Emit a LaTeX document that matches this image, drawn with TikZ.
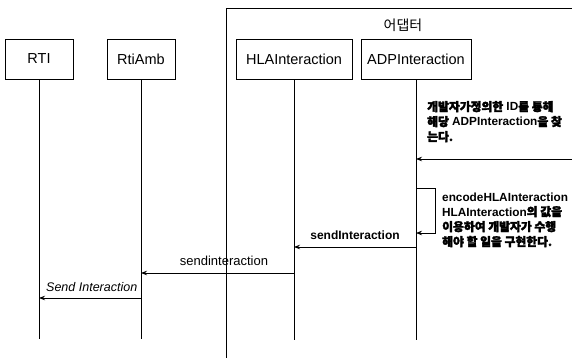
\documentclass[tikz,border=0pt]{standalone}
\usepackage{fontspec}
\setmainfont{Liberation Sans}
\newfontfamily\krf{Noto Sans CJK KR}
\newfontfamily\krb{Noto Sans CJK KR}[FakeBold=2.5]
\newcommand{\K}[1]{{\krb #1}}
\usetikzlibrary{arrows.meta}
\tikzset{
  actor/.style={draw, line width=0.7pt, minimum height=40pt, inner sep=0pt, font=\fontsize{14.5}{16}\selectfont},
  life/.style={line width=0.6pt},
  msg/.style={line width=0.8pt, -{Stealth[length=6pt,width=4.5pt]}},
  note/.style={anchor=base west, inner sep=0pt, font=\bfseries\fontsize{11.8}{13}\selectfont},
}
\begin{document}
\begin{tikzpicture}[x=1pt,y=-1pt]
\useasboundingbox (0,0) rectangle (572,358);
% adapter frame
\coordinate (fTL) at (226,8);
\coordinate (fTR) at (572,8);
\coordinate (fBL) at (226,358);
\draw[line width=0.7pt] (fBL) -- (fTL) -- (fTR);
\node (adlabel) at (403,25) {\fontsize{14}{16}\selectfont\krf 어댑터};
% actors
\node[actor, minimum width=68pt] (rti) at (39,59) {RTI};
\node[actor, minimum width=68pt] (amb) at (141,59) {RtiAmb};
\node[actor, minimum width=116pt] (hla) at (294,59) {HLAInteraction};
\node[actor, minimum width=110pt] (adp) at (416,59) {ADPInteraction};
% lifelines
\coordinate (rtiE) at (rti.south |- 0,339);
\coordinate (ambE) at (amb.south |- 0,339);
\coordinate (hlaE) at (hla.south |- 0,340);
\coordinate (adpE) at (adp.south |- 0,340);
\draw[life] (rti) -- (rtiE);
\draw[life] (amb) -- (ambE);
\draw[life] (hla) -- (hlaE);
\draw[life] (adp) -- (adpE);
% note 1
\node[note] (n1a) at (427,111) {\K{개발자가정의한} ID\K{를 통해}};
\node[note] (n1b) at (427,126) {\K{해당} ADPInteraction\K{을 찾}};
\node[note] (n1c) at (427,141) {\K{는다.}};
% incoming message
\coordinate (inS) at (572,159);
\coordinate (inT) at (adp.south |- 0,159);
\draw[msg] (inS) -- (inT);
% self message
\coordinate (s1) at (adp.south |- 0,188);
\coordinate (s2) at (435,188);
\coordinate (s3) at (435,233);
\coordinate (s4) at (adp.south |- 0,233);
\draw[msg, line width=0.6pt] (s1) -- (s2) -- (s3) -- (s4);
% note 2
\node[note] (n2a) at (442,201) {encodeHLAInteraction};
\node[note] (n2b) at (442,216) {HLAInteraction\K{의 값을}};
\node[note] (n2c) at (442,231) {\K{이용하여 개발자가 수행}};
\node[note] (n2d) at (442,246) {\K{해야 할 일을 구현한다.}};
% sendInteraction ADP -> HLA
\coordinate (m1s) at (adp.south |- 0,247);
\coordinate (m1t) at (hla.south |- 0,247);
\draw[msg] (m1s) -- (m1t);
\node[font=\bfseries\fontsize{12}{13}\selectfont] (m1l) at (355,235) {sendInteraction};
% sendinteraction HLA -> RtiAmb
\coordinate (m2s) at (hla.south |- 0,273);
\coordinate (m2t) at (amb.south |- 0,273);
\draw[msg] (m2s) -- (m2t);
\node[font=\fontsize{13}{15}\selectfont] (m2l) at (224,261) {sendinteraction};
% Send Interaction RtiAmb -> RTI
\coordinate (m3s) at (amb.south |- 0,298);
\coordinate (m3t) at (rti.south |- 0,298);
\draw[msg] (m3s) -- (m3t);
\node[font=\itshape\fontsize{12.5}{14}\selectfont, anchor=west, inner sep=0pt] (m3l) at (46,287) {Send Interaction};
\end{tikzpicture}
\end{document}
